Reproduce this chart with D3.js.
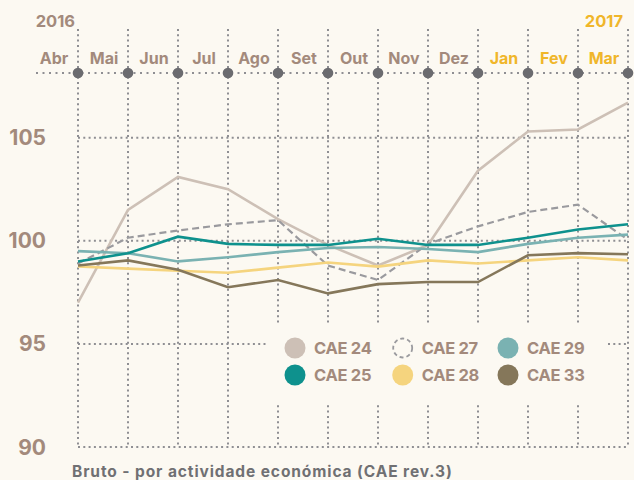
<!DOCTYPE html>
<html>
<head>
<meta charset="utf-8">
<script src="https://cdn.jsdelivr.net/npm/d3@7"></script>
<style>
  html, body { margin: 0; padding: 0; background: #fcf9f2; }
  svg { display: block; }
  text { font-family: Inter, "Noto Sans", sans-serif; font-weight: 700; }
</style>
</head>
<body>
<svg id="chart" width="634" height="480"></svg>
<script>
const months = ["Abr","Mai","Jun","Jul","Ago","Set","Out","Nov","Dez","Jan","Fev","Mar"];
const yearLabels = ["2016", "2017"];
const yTicks = [90, 95, 100, 105];
const seriesNames = ["CAE 24", "CAE 25", "CAE 27", "CAE 28", "CAE 29", "CAE 33"];
const cae24 = [97.0, 101.5, 103.1, 102.5, 101.05, 99.8, 98.8, 99.8, 103.4, 105.3, 105.4, 106.7];
const cae25 = [99.0, 99.4, 100.2, 99.85, 99.8, 99.8, 100.1, 99.8, 99.8, 100.15, 100.55, 100.8];
const cae27 = [98.9, 100.15, 100.5, 100.8, 101.0, 98.8, 98.1, 99.85, 100.7, 101.4, 101.75, 100.05];
const cae28 = [98.75, 98.65, 98.55, 98.45, 98.7, 98.95, 98.75, 99.05, 98.9, 99.05, 99.2, 99.05];
const cae29 = [99.5, 99.4, 99.0, 99.2, 99.45, 99.65, 99.7, 99.6, 99.45, 99.85, 100.15, 100.3];
const cae33 = [98.8, 99.05, 98.6, 97.75, 98.1, 97.45, 97.9, 98.0, 98.0, 99.3, 99.4, 99.35];
const caption = "Bruto - por actividade económica (CAE rev.3)";

const series = [
  {name: "CAE 24", values: cae24, color: "#cdc0b6", dash: null, width: 2.6},
  {name: "CAE 27", values: cae27, color: "#9a9a9e", dash: "7,4", width: 2.2},
  {name: "CAE 29", values: cae29, color: "#7ab2b2", dash: null, width: 2.6},
  {name: "CAE 28", values: cae28, color: "#f5d47e", dash: null, width: 2.6},
  {name: "CAE 33", values: cae33, color: "#85775a", dash: null, width: 2.6},
  {name: "CAE 25", values: cae25, color: "#0e918d", dash: null, width: 2.6}
];
const legendOrder = [["CAE 24","CAE 27","CAE 29"],["CAE 25","CAE 28","CAE 33"]];

const brown = "#a38a7c", gold = "#f0b62a", gridCol = "#8f8f93";
const svg = d3.select("#chart");

const x = d3.scalePoint().domain(months).range([78, 628]);
const y = d3.scaleLinear().domain([90, 105]).range([447, 137.7]);

const grid = svg.append("g");
// vertical gridlines
grid.selectAll("line.v").data(months).join("line")
  .attr("x1", d => x(d)).attr("x2", d => x(d))
  .attr("y1", 29).attr("y2", y(90))
  .attr("stroke", gridCol).attr("stroke-width", 2).attr("stroke-dasharray", "2,3.3");
// horizontal gridlines
grid.selectAll("line.h").data(yTicks).join("line")
  .attr("x1", x(months[0])).attr("x2", x(months[months.length-1]))
  .attr("y1", d => y(d)).attr("y2", d => y(d))
  .attr("stroke", gridCol).attr("stroke-width", 2).attr("stroke-dasharray", "2,3.3");

// y labels
svg.append("g").selectAll("text").data(yTicks).join("text")
  .attr("x", 46).attr("y", d => y(d)).attr("dy", "0.36em")
  .attr("text-anchor", "end").attr("fill", brown).attr("font-size", 21)
  .text(d => d);

// lines
const line = d3.line().x((d, i) => x(months[i])).y(d => y(d));
svg.append("g").selectAll("path").data(series).join("path")
  .attr("d", d => line(d.values))
  .attr("fill", "none").attr("stroke", d => d.color)
  .attr("stroke-width", d => d.width)
  .attr("stroke-dasharray", d => d.dash)
  .attr("stroke-linejoin", "miter");

// top axis
const axisY = 73;
svg.append("line").attr("x1", 36).attr("x2", 634).attr("y1", axisY).attr("y2", axisY)
  .attr("stroke", gridCol).attr("stroke-width", 2).attr("stroke-dasharray", "2,4.5");
svg.append("g").selectAll("circle").data(months).join("circle")
  .attr("cx", d => x(d)).attr("cy", axisY).attr("r", 5.3).attr("fill", "#6b6b6f");
svg.append("g").selectAll("text").data(months).join("text")
  .attr("x", d => x(d) - 24).attr("y", 64)
  .attr("text-anchor", "middle").attr("font-size", 16)
  .attr("fill", (d, i) => i >= 9 ? gold : brown)
  .text(d => d);
svg.append("text").attr("x", 75).attr("y", 27).attr("text-anchor", "end")
  .attr("font-size", 16.5).attr("fill", brown).text(yearLabels[0]);
svg.append("text").attr("x", 623).attr("y", 27).attr("text-anchor", "end")
  .attr("font-size", 16.5).attr("fill", gold).text(yearLabels[1]);

// legend
const lg = svg.append("g");
lg.append("rect").attr("x", 267).attr("y", 325).attr("width", 338).attr("height", 80)
  .attr("fill", "#fcf9f2");
const colX = [295, 402.7, 508], rowY = [348, 375];
const byName = Object.fromEntries(series.map(s => [s.name, s]));
legendOrder.forEach((row, r) => row.forEach((name, c) => {
  const s = byName[name];
  const g = lg.append("g");
  if (s.dash) {
    g.append("circle").attr("cx", colX[c]).attr("cy", rowY[r]).attr("r", 9.5)
      .attr("fill", "none").attr("stroke", s.color).attr("stroke-width", 1.8)
      .attr("stroke-dasharray", "4,3");
  } else {
    g.append("circle").attr("cx", colX[c]).attr("cy", rowY[r]).attr("r", 10.5)
      .attr("fill", s.color);
  }
  g.append("text").attr("x", colX[c] + 19).attr("y", rowY[r]).attr("dy", "0.36em")
    .attr("font-size", 16.5).attr("fill", brown).attr("letter-spacing", -0.3).text(name);
}));

// caption
svg.append("text").attr("x", 72).attr("y", 477).attr("font-size", 15.5)
  .attr("letter-spacing", 0.9)
  .attr("fill", "#707073").text(caption);
</script>
</body>
</html>
